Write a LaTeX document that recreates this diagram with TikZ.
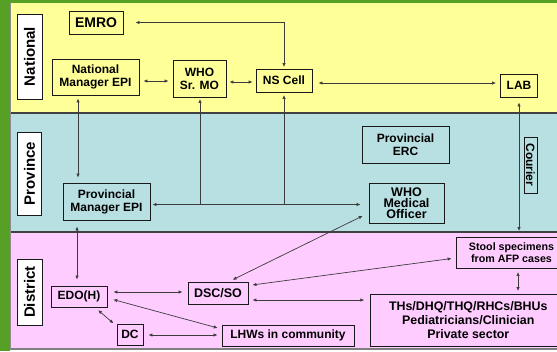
\documentclass[tikz,border=0pt]{standalone}
\usepackage{fontspec}
\setmainfont{Liberation Sans}
\usetikzlibrary{arrows.meta}
\definecolor{bggreen}{RGB}{86,160,38}
\definecolor{bandyellow}{RGB}{255,255,153}
\definecolor{bandblue}{RGB}{184,223,225}
\definecolor{bandpink}{RGB}{255,204,255}
\definecolor{linegray}{RGB}{60,60,60}
\begin{document}
\begin{tikzpicture}[x=1pt,y=-1pt,
  box/.style={draw=black!90, line width=0.9pt, align=center, inner sep=0pt,
    font=\bfseries\fontsize{12}{13}\selectfont},
  side/.style={box, fill=white, rotate=90, font=\bfseries\fontsize{15}{16}\selectfont},
  arr/.style={{Latex[length=4pt,width=3.4pt]}-{Latex[length=4pt,width=3.4pt]}, line width=0.7pt, draw=linegray},
  arrs/.style={-{Latex[length=4pt,width=3.4pt]}, line width=0.7pt, draw=linegray},
  plain/.style={line width=0.7pt, draw=linegray}]
\useasboundingbox (0,0) rectangle (557,351);
% backgrounds
\fill[bggreen] (0,0) rectangle (557,351);
\fill[bandyellow] (10,3) rectangle (557,113);
\fill[bandblue] (10,113) rectangle (557,232);
\fill[bandpink] (10,232) rectangle (557,348.5);
\fill[white] (10,349.5) rectangle (557,351);
\draw[line width=1.3pt, black!75] (10,113) -- (557,113);
\draw[line width=1.3pt, black!75] (10,232) -- (557,232);
\draw[line width=1.2pt, black!50] (10,348.9) -- (557,348.9);
\draw[line width=0.6pt, black!45] (10.3,3) -- (10.3,349);
% side labels
\node[side, minimum width=85pt, minimum height=25pt] (natl) at (29.5,56.5) {National};
\node[side, minimum width=83pt, minimum height=24.5pt] (prov) at (29.5,173.5) {Province};
\node[side, minimum width=66pt, minimum height=25pt] (dist) at (29.5,292) {District};
% national
\node[box, minimum width=54pt, minimum height=23pt, font=\bfseries\fontsize{14}{15}\selectfont] (emro) at (96,22.5) {EMRO};
\node[box, minimum width=87pt, minimum height=36pt] (nme) at (95.5,77) {National\\Manager EPI};
\node[box, minimum width=53pt, minimum height=37pt] (whosr) at (199.5,78.5) {WHO\\Sr. MO};
\node[box, minimum width=56pt, minimum height=23pt] (ns) at (284,80.5) {NS Cell};
\node[box, minimum width=37pt, minimum height=23pt] (lab) at (519,85.5) {LAB};
% province
\node[box, minimum width=87pt, minimum height=37pt] (perc) at (405.5,144.5) {Provincial\\ERC};
\node[box, rotate=-90, minimum width=56pt, minimum height=13pt] (courier) at (530.5,165) {Courier};
\node[box, minimum width=75pt, minimum height=40pt, font=\bfseries\fontsize{12.5}{11}\selectfont] (whomo) at (406.5,203) {WHO\\Medical\\Officer};
\node[box, minimum width=87pt, minimum height=37pt] (pme) at (106.5,201.5) {Provincial\\Manager EPI};
% district
\node[box, minimum width=111pt, minimum height=31pt, font=\bfseries\fontsize{10.7}{11.7}\selectfont] (stool) at (511.5,252.5) {Stool specimens\\from AFP cases};
\node[box, minimum width=195pt, minimum height=52pt, font=\bfseries\fontsize{12.4}{14}\selectfont] (ths) at (468.3,320) {THs/DHQ/THQ/RHCs/BHUs\\Pediatricians/Clinician\\Private sector};
\node[box, minimum width=132pt, minimum height=21pt] (lhws) at (288,335.5) {LHWs in community};
\node[box, minimum width=26pt, minimum height=21pt] (dc) at (130,334.5) {DC};
\node[box, minimum width=56pt, minimum height=21pt] (edo) at (79,296.5) {EDO(H)};
\node[box, minimum width=60pt, minimum height=22pt, font=\bfseries\fontsize{12.5}{13}\selectfont] (dsc) at (218,293) {DSC/SO};
% junctions
\coordinate (j1) at (200,204.5);
\coordinate (j2) at (284,204.5);
% connectors national
\draw[arr, shorten <=1.5pt, shorten >=12pt] (ns.north) |- (emro.east);
\draw[arr, shorten <=4pt, shorten >=4pt] (nme.east |- 0,81) -- (whosr.west |- 0,81);
\draw[arr, shorten <=3pt, shorten >=3pt] (whosr.east |- 0,82) -- (ns.west |- 0,82);
\draw[arr, shorten <=6pt, shorten >=4pt] (ns.east |- 0,83) -- (lab.west |- 0,83);
\draw[arr, shorten <=3pt, shorten >=5pt] (nme.south -| 78,0) -- (pme.north -| 78,0);
\draw[arrs, shorten >=1.5pt] (j1) -- (whosr.south -| j1);
\draw[arrs, shorten >=2.5pt] (j2) -- (ns.south);
% province
\draw[arr, shorten <=2pt, shorten >=8pt] (pme.east |- j1) -- (whomo.west |- j1);
\draw[arr, shorten <=5pt, shorten >=5.5pt] (lab.south) -- (stool.north -| lab.south);
\draw[arr, shorten <=3.5pt, shorten >=2.5pt] (stool.south -| 518,0) -- (ths.north -| 518,0);
% district
\draw[arr, shorten <=4pt, shorten >=6.5pt] (dsc.north -| 229,0) -- (whomo.west |- 0,213);
\draw[arr, shorten <=4pt, shorten >=4pt] (dsc.east |- 0,285.5) -- (stool.west |- 0,258);
\draw[arr, shorten <=4pt, shorten >=6pt] (dsc.east |- 0,300) -- (ths.west |- 0,300);
\draw[arr, shorten <=6pt, shorten >=5pt] (edo.east |- 0,292) -- (dsc.west |- 0,292);
\draw[arr, shorten <=6pt, shorten >=4pt] (edo.east |- 0,298) -- (lhws.west |- 0,329);
\draw[arr, shorten <=4pt, shorten >=4pt] (edo.south -| 95,0) -- (dc.west |- 0,326);
\draw[arr, shorten <=5pt, shorten >=4pt] (dc.east |- 0,335) -- (lhws.west |- 0,335);
\draw[arr, shorten <=6pt, shorten >=6pt] (pme.south -| 77,0) -- (edo.north -| 77,0);
\end{tikzpicture}
\end{document}
